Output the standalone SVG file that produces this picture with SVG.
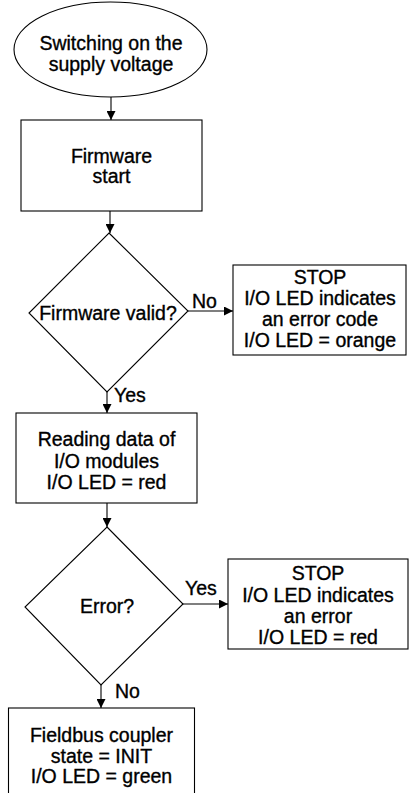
<svg xmlns="http://www.w3.org/2000/svg" width="409" height="793" viewBox="0 0 409 793">
  <style>
    .shape { fill: #ffffff; stroke: #000000; stroke-width: 1.1; }
    .t { font-family: "Liberation Sans", Arial, sans-serif; font-size: 19.5px; fill: #000000; stroke: #000000; stroke-width: 0.35; text-anchor: middle; }
    .lbl { font-family: "Liberation Sans", Arial, sans-serif; font-size: 19.5px; fill: #000000; stroke: #000000; stroke-width: 0.35; }
    .conn { stroke: #000000; stroke-width: 1.1; fill: none; marker-end: url(#arrow); }
  </style>
  <defs>
    <marker id="arrow" viewBox="0 0 10 10" refX="10" refY="5" markerWidth="10" markerHeight="9" markerUnits="userSpaceOnUse" orient="auto">
      <path d="M0,0 L10,5 L0,10 z" fill="#000000"/>
    </marker>
  </defs>
  <rect width="409" height="793" fill="#ffffff"/>

  <g id="connectors">
    <line class="conn" x1="111" y1="97" x2="111" y2="120"/>
    <line class="conn" x1="110" y1="211" x2="110" y2="233"/>
    <line class="conn" x1="107" y1="392" x2="107" y2="413"/>
    <line class="conn" x1="188" y1="311" x2="233" y2="311"/>
    <line class="conn" x1="107" y1="503" x2="107" y2="527"/>
    <line class="conn" x1="183" y1="604" x2="228" y2="604"/>
    <line class="conn" x1="101" y1="685" x2="101" y2="708"/>
    <text class="lbl" x="192" y="308">No</text>
    <text class="lbl" x="114" y="402">Yes</text>
    <text class="lbl" x="185" y="595">Yes</text>
    <text class="lbl" x="115" y="698">No</text>
  </g>

  <g id="start">
    <ellipse class="shape" cx="110.5" cy="49.5" rx="96.5" ry="47.5"/>
    <text class="t" x="111" y="50">Switching on the</text>
    <text class="t" x="111" y="71">supply voltage</text>
  </g>

  <g id="firmware-start">
    <rect class="shape" x="21" y="120" width="181" height="91"/>
    <text class="t" x="111.5" y="163">Firmware</text>
    <text class="t" x="111.5" y="183">start</text>
  </g>

  <g id="firmware-valid">
    <polygon class="shape" points="109,233 188,311 107,392 29,313"/>
    <text class="t" x="108" y="320">Firmware valid?</text>
  </g>

  <g id="stop-firmware">
    <rect class="shape" x="233" y="265" width="173" height="90"/>
    <text class="t" x="320" y="284">STOP</text>
    <text class="t" x="320" y="305">I/O LED indicates</text>
    <text class="t" x="320" y="326">an error code</text>
    <text class="t" x="320" y="347">I/O LED = orange</text>
  </g>

  <g id="reading-data">
    <rect class="shape" x="16" y="413" width="181" height="90"/>
    <text class="t" x="106.5" y="446">Reading data of</text>
    <text class="t" x="106.5" y="468">I/O modules</text>
    <text class="t" x="106.5" y="489">I/O LED = red</text>
  </g>

  <g id="error">
    <polygon class="shape" points="107,527 183,604 101,685 25,607"/>
    <text class="t" x="107" y="613">Error?</text>
  </g>

  <g id="stop-error">
    <rect class="shape" x="228" y="559" width="180" height="90"/>
    <text class="t" x="318" y="580">STOP</text>
    <text class="t" x="318" y="602">I/O LED indicates</text>
    <text class="t" x="318" y="623">an error</text>
    <text class="t" x="318" y="644">I/O LED = red</text>
  </g>

  <g id="fieldbus-init">
    <rect class="shape" x="8.5" y="708" width="186" height="100"/>
    <text class="t" x="101.5" y="742">Fieldbus coupler</text>
    <text class="t" x="101.5" y="763">state = INIT</text>
    <text class="t" x="101.5" y="783">I/O LED = green</text>
  </g>
</svg>
